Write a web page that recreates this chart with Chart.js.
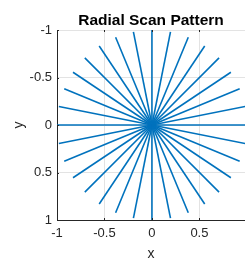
<!DOCTYPE html>
<html>
<head>
<meta charset="utf-8">
<script src="https://cdn.jsdelivr.net/npm/chart.js@4.4.1/dist/chart.umd.min.js"></script>
<style>
  html, body { margin: 0; padding: 0; background: #fff; overflow: hidden; }
  #wrap { width: 245px; height: 259px; }
</style>
</head>
<body>
<div id="wrap"><canvas id="grafico" width="245" height="259"></canvas></div>
<script>
// scan directions (degrees) and ray length
const angulos = [0, 11.25, 22.5, 33.75, 45, 56.25, 67.5, 78.75,
                 90, 101.25, 112.5, 123.75, 135, 146.25, 157.5, 168.75,
                 180, 191.25, 202.5, 213.75, 225, 236.25, 247.5, 258.75,
                 270, 281.25, 292.5, 303.75, 315, 326.25, 337.5, 348.75];
const raio = 1;
const ticksX = [-1, -0.5, 0, 0.5];
const ticksY = [-1, -0.5, 0, 0.5, 1];

const azul = '#0072BD';
const eixo = '#262626';
const fonte = 'Liberation Sans, Arial, sans-serif';

const datasets = angulos.map(function (a) {
    const t = a * Math.PI / 180;
    return {
        data: [{ x: 0, y: 0 }, { x: raio * Math.cos(t), y: raio * Math.sin(t) }],
        borderColor: azul,
        borderWidth: 1.6,
        pointRadius: 0,
        showLine: true,
        fill: false
    };
});

// small inward ticks like the original
const marcas = {
    id: 'marcas',
    afterDraw(chart) {
        const c = chart.ctx, a = chart.chartArea;
        const sx = chart.scales.x, sy = chart.scales.y;
        c.save();
        c.strokeStyle = eixo;
        c.lineWidth = 1;
        c.beginPath();
        ticksX.forEach(function (v) {
            const p = Math.round(sx.getPixelForValue(v)) + 0.5;
            c.moveTo(p, a.bottom); c.lineTo(p, a.bottom - 2);
            c.moveTo(p, a.top); c.lineTo(p, a.top + 2);
        });
        ticksY.forEach(function (v) {
            const p = Math.round(sy.getPixelForValue(v)) + 0.5;
            c.moveTo(a.left, p); c.lineTo(a.left + 2, p);
        });
        c.stroke();
        c.restore();
    }
};

const grafico = new Chart(document.getElementById('grafico'), {
    type: 'scatter',
    data: { datasets: datasets },
    plugins: [marcas],
    options: {
        responsive: false,
        animation: false,
        layout: { padding: { left: 0, right: 0, top: 0, bottom: 0 } },
        plugins: {
            legend: { display: false },
            tooltip: { enabled: false },
            title: {
                display: true,
                fullSize: false,
                text: 'Radial Scan Pattern',
                color: '#000',
                font: { family: fonte, size: 15.5, weight: 'bold', lineHeight: 1.2 },
                padding: { top: 11.5, bottom: -0.1 }
            }
        },
        scales: {
            x: {
                type: 'linear',
                min: -1,
                max: 0.98,
                afterFit: function (s) { s.height = 39; },
                afterBuildTicks: function (s) { s.ticks = ticksX.map(v => ({ value: v })); },
                ticks: {
                    color: eixo,
                    padding: 6,
                    maxRotation: 0,
                    font: { family: fonte, size: 13 },
                    callback: function (v) { return String(v); }
                },
                grid: { color: '#e3e3e3', drawTicks: false },
                border: { color: eixo, width: 1 },
                title: {
                    display: true,
                    text: 'x',
                    color: eixo,
                    font: { family: fonte, size: 14, lineHeight: 1 },
                    padding: { top: 0, bottom: -2 }
                }
            },
            y: {
                type: 'linear',
                reverse: true,
                min: -1,
                max: 1,
                afterFit: function (s) { s.width = 57; },
                afterBuildTicks: function (s) { s.ticks = ticksY.map(v => ({ value: v })); },
                ticks: {
                    color: eixo,
                    padding: 5,
                    font: { family: fonte, size: 13 },
                    callback: function (v) { return String(v); }
                },
                grid: { color: '#e3e3e3', drawTicks: false },
                border: { color: eixo, width: 1 },
                title: {
                    display: true,
                    text: 'y',
                    color: eixo,
                    font: { family: fonte, size: 14, lineHeight: 1 },
                    padding: { top: 12, bottom: 0 }
                }
            }
        }
    }
});
</script>
</body>
</html>
